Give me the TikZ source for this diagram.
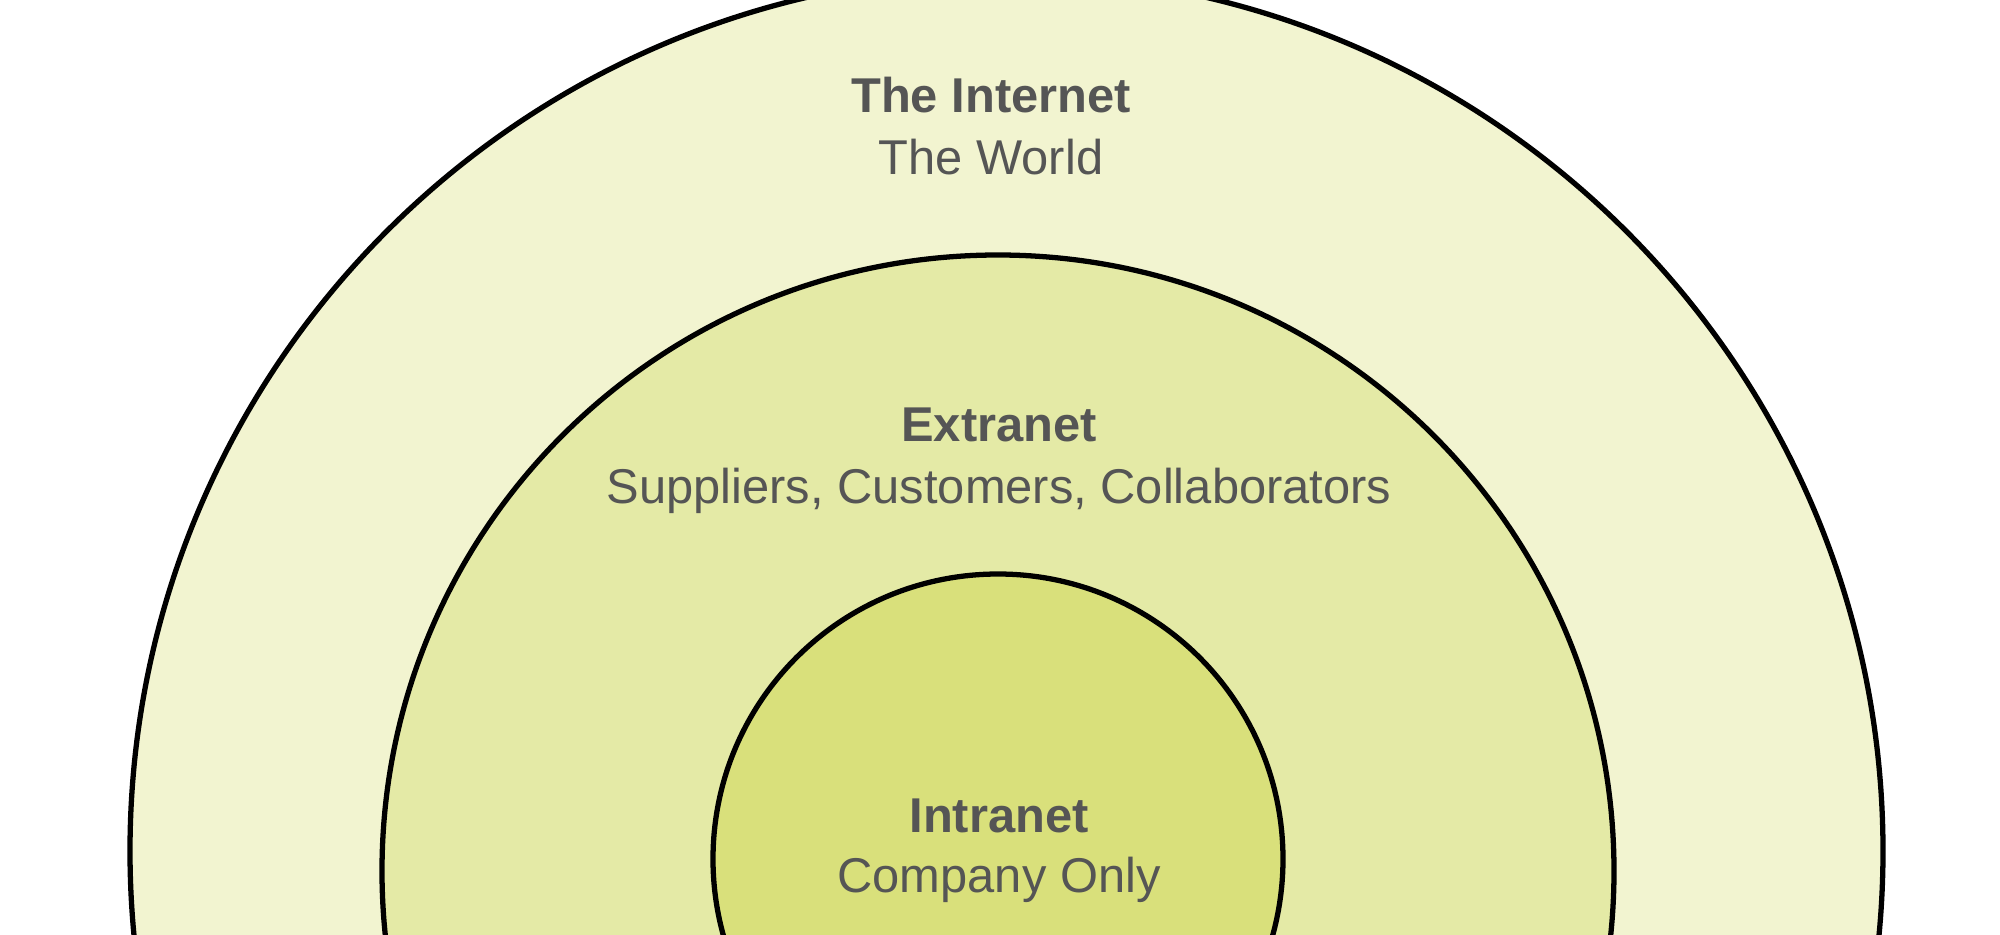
\documentclass[tikz,border=0pt]{standalone}
\usepackage{fontspec}
\setmainfont{Liberation Sans}
\usetikzlibrary{positioning}

\definecolor{ringout}{HTML}{F2F4D0}
\definecolor{ringmid}{HTML}{E4EAA6}
\definecolor{ringin}{HTML}{D9E07B}
\definecolor{labelgray}{HTML}{555555}

\begin{document}
\begin{tikzpicture}[
  ring/.style={draw=black, line width=1.5pt},
  title/.style={font=\fontsize{13.9}{16}\selectfont\bfseries, text=labelgray,
                inner sep=0pt, anchor=base},
  sub/.style={font=\fontsize{13.9}{16}\selectfont, text=labelgray,
              inner sep=0pt, anchor=base},
]
\useasboundingbox (0,0) rectangle (20,9.34);
\clip (0,0) rectangle (20,9.34);

% the three zones, largest first
\coordinate (cout) at (10.065,0.83);
\coordinate (cmid) at (9.98,0.63);
\coordinate (cin)  at (9.98,0.75);
\draw[ring, fill=ringout] (cout) circle (8.765);
\draw[ring, fill=ringmid] (cmid) circle (6.16);
\draw[ring, fill=ringin]  (cin)  circle (2.85);

% labels
\node[title] (inet) at (9.91,8.22) {The Internet};
\node[sub] (inetsub) at ([yshift=-6.2mm]inet.base) {The World};

\node[title] (extra) at (9.99,4.93) {Extranet};
\node[sub] (extrasub) at ([yshift=-6.2mm]extra.base) {Suppliers, Customers, Collaborators};

\node[title] (intra) at (9.99,1.02) {Intranet};
\node[sub] (intrasub) at ([yshift=-6.0mm]intra.base) {Company Only};
\end{tikzpicture}
\end{document}
